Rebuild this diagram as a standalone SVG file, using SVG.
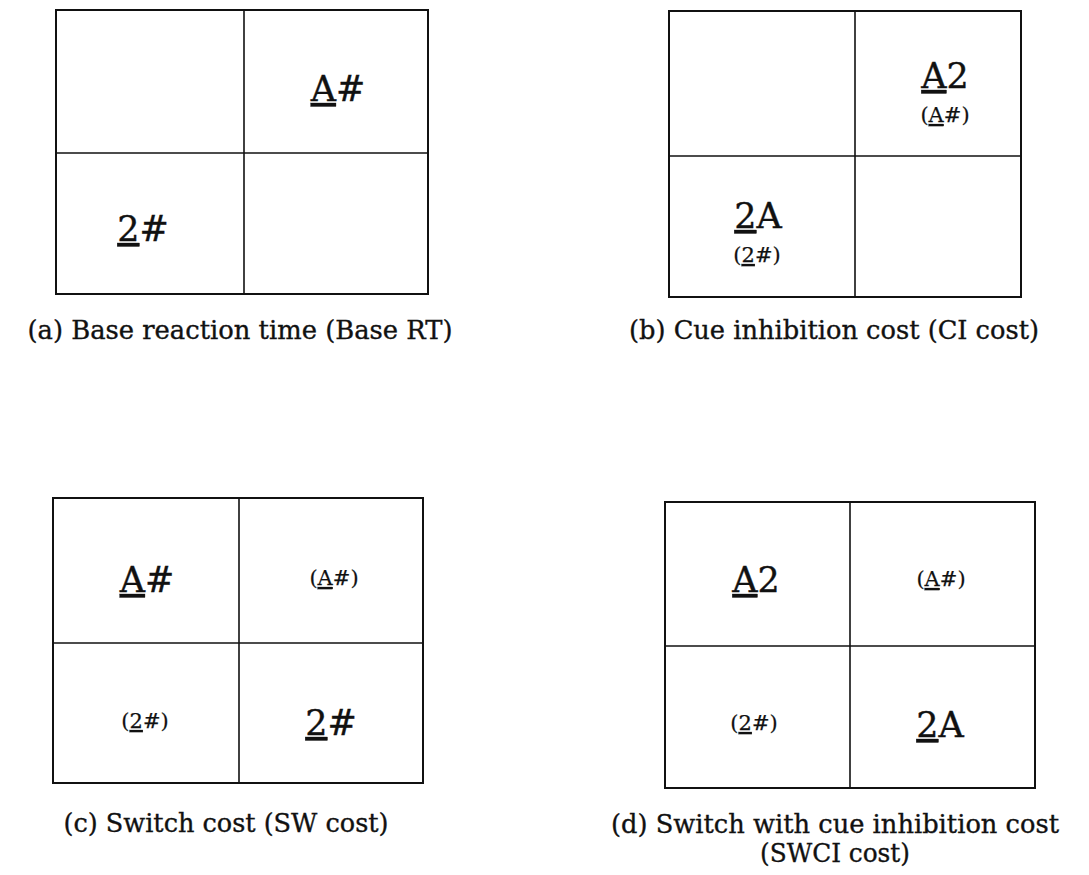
<svg xmlns="http://www.w3.org/2000/svg" width="1089" height="875" viewBox="0 0 1089 875">
<style>
.box{fill:none;stroke:#111;stroke-width:2}
.div{stroke:#111;stroke-width:1.6}
text{font-family:"DejaVu Serif","Liberation Serif",serif;fill:#111;stroke:#111;stroke-width:0.35;text-anchor:middle}
.big{font-size:35px}
.sm{font-size:21px;stroke-width:0.25}
.cap{font-size:26px}
.u{text-decoration:underline}
</style>
<rect width="1089" height="875" fill="#fff"/>
<g id="panel-a">
<rect class="box" x="56" y="10" width="372" height="284"/>
<line class="div" x1="244" y1="10" x2="244" y2="294"/>
<line class="div" x1="56" y1="153" x2="428" y2="153"/>
<text class="big" x="338" y="101"><tspan class="u">A</tspan>#</text>
<text class="big" x="143" y="241"><tspan class="u">2</tspan>#</text>
<text class="cap" x="240" y="339" textLength="425" lengthAdjust="spacingAndGlyphs">(a) Base reaction time (Base RT)</text>
</g>
<g id="panel-b">
<rect class="box" x="669" y="11" width="352" height="286"/>
<line class="div" x1="855" y1="11" x2="855" y2="297"/>
<line class="div" x1="669" y1="156" x2="1021" y2="156"/>
<text class="big" x="945" y="88"><tspan class="u">A</tspan>2</text>
<text class="sm" x="945" y="122">(<tspan class="u">A</tspan>#)</text>
<text class="big" x="758" y="228"><tspan class="u">2</tspan>A</text>
<text class="sm" x="757" y="262">(<tspan class="u">2</tspan>#)</text>
<text class="cap" x="834" y="339" textLength="410" lengthAdjust="spacingAndGlyphs">(b) Cue inhibition cost (CI cost)</text>
</g>
<g id="panel-c">
<rect class="box" x="53" y="498" width="370" height="285"/>
<line class="div" x1="239" y1="498" x2="239" y2="783"/>
<line class="div" x1="53" y1="643" x2="423" y2="643"/>
<text class="big" x="147" y="592"><tspan class="u">A</tspan>#</text>
<text class="sm" x="334" y="585">(<tspan class="u">A</tspan>#)</text>
<text class="sm" x="145" y="728">(<tspan class="u">2</tspan>#)</text>
<text class="big" x="331" y="735"><tspan class="u">2</tspan>#</text>
<text class="cap" x="226" y="832" textLength="325" lengthAdjust="spacingAndGlyphs">(c) Switch cost (SW cost)</text>
</g>
<g id="panel-d">
<rect class="box" x="665" y="502" width="370" height="286"/>
<line class="div" x1="850" y1="502" x2="850" y2="788"/>
<line class="div" x1="665" y1="646" x2="1035" y2="646"/>
<text class="big" x="756" y="592"><tspan class="u">A</tspan>2</text>
<text class="sm" x="941" y="586">(<tspan class="u">A</tspan>#)</text>
<text class="sm" x="754" y="730">(<tspan class="u">2</tspan>#)</text>
<text class="big" x="940" y="737"><tspan class="u">2</tspan>A</text>
<text class="cap" x="835" y="833" textLength="448" lengthAdjust="spacingAndGlyphs">(d) Switch with cue inhibition cost</text>
<text class="cap" x="835" y="862" textLength="150" lengthAdjust="spacingAndGlyphs">(SWCI cost)</text>
</g>
<g id="connectors"/>
</svg>
